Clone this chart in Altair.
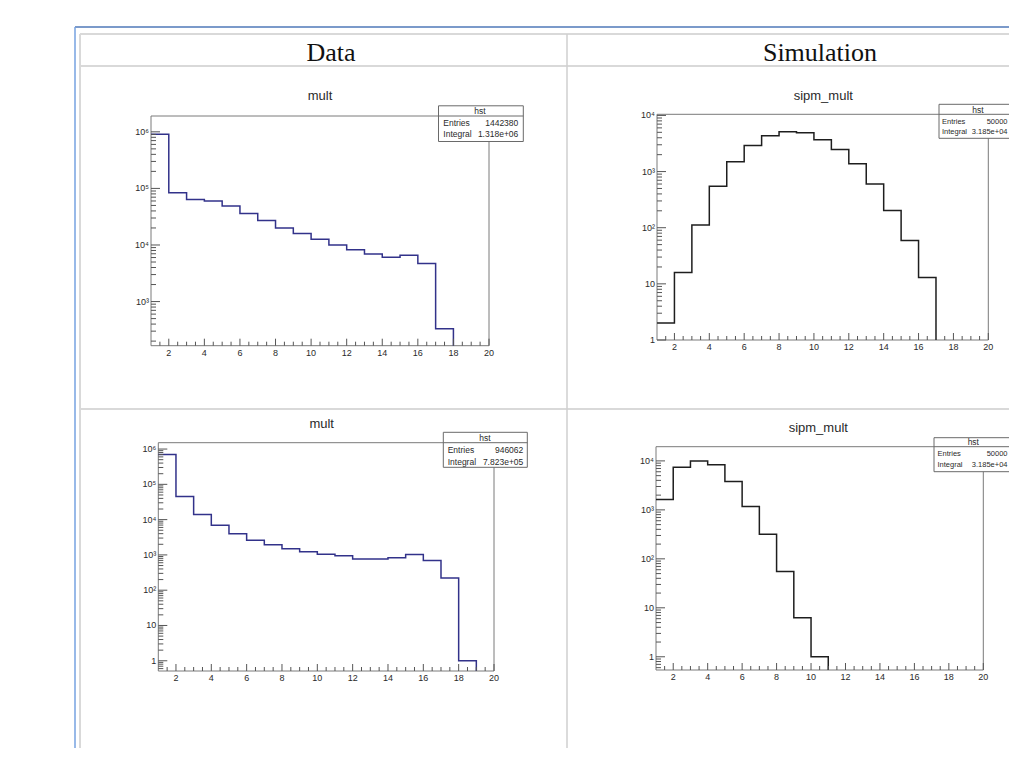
import altair as alt
import pandas as pd

# ---------------- data ----------------
bin_low_edges = list(range(1, 20))          # 19 unit-wide bins covering 1..20
x_tick_major = [2, 4, 6, 8, 10, 12, 14, 16, 18, 20]
x_tick_labels = ["2", "4", "6", "8", "10", "12", "14", "16", "18", "20"]

data_top_counts = [9.1e5, 8.4e4, 6.4e4, 6.0e4, 4.9e4, 3.6e4, 2.7e4, 2.0e4, 1.6e4,
                   1.26e4, 1.0e4, 8.2e3, 6.9e3, 6.1e3, 6.6e3, 4.7e3, 330, 0, 0]
sim_top_counts = [2, 16, 112, 545, 1500, 2900, 4350, 5100, 4900,
                  3700, 2480, 1380, 600, 203, 59, 13, 0, 0, 0]
data_bot_counts = [7.0e5, 4.5e4, 1.4e4, 6.9e3, 4.0e3, 2.6e3, 1.95e3, 1.5e3, 1.23e3,
                   1.05e3, 950, 760, 760, 830, 1020, 690, 220, 1, 0]
sim_bot_counts = [1620, 7400, 10000, 8300, 3800, 1170, 318, 55, 6.3,
                  1, 0, 0, 0, 0, 0, 0, 0, 0, 0]

ytick_top_data = [1e3, 1e4, 1e5, 1e6]
ylabel_top_data = ["10³", "10⁴", "10⁵", "10⁶"]
ytick_sim = [1, 10, 100, 1e3, 1e4]
ylabel_sim = ["1", "10", "10²", "10³", "10⁴"]
ytick_bot_data = [1, 10, 100, 1e3, 1e4, 1e5, 1e6]
ylabel_bot_data = ["1", "10", "10²", "10³", "10⁴", "10⁵", "10⁶"]

column_headers = ["Data", "Simulation"]
panel_titles = ["mult", "sipm_mult", "mult", "sipm_mult"]
stats_name = "hst"
stats_entries = ["1442380", "50000", "946062", "50000"]
stats_integral = ["1.318e+06", "3.185e+04", "7.823e+05", "3.185e+04"]

# ---------------- styling / layout ----------------
FONT = "Liberation Sans"
FRAME = "#7a7a7a"
TICK = "#555555"
TXT = "#2a2a2a"
DATA_COLOR = "#32328a"
SIM_COLOR = "#1e1e1e"
GRID = "#d9d9d9"

one = pd.DataFrame({"k": [0]})


def vrule(x, y1, y2, color, w):
    return alt.Chart(one).mark_rule(color=color, strokeWidth=w).encode(
        x=alt.value(x), y=alt.value(y1), y2=alt.value(y2))


def hrule(y, x1, x2, color, w):
    return alt.Chart(one).mark_rule(color=color, strokeWidth=w).encode(
        y=alt.value(y), x=alt.value(x1), x2=alt.value(x2))


def text(t, x, y, size, align="center", font=FONT, color=TXT, baseline="middle"):
    return alt.Chart(one).mark_text(text=t, fontSize=size, font=font, color=color,
                                    align=align, baseline=baseline).encode(
        x=alt.value(x), y=alt.value(y))


def log_minors(lo, hi):
    out = []
    for e in range(-2, 8):
        for k in range(2, 10):
            v = k * 10 ** e
            if lo <= v <= hi:
                out.append(v)
    return out


def panel(counts, color, yticks, ylabels, title, entries, integral, L):
    x0, x1 = L["xr"]
    yb, yt = L["yr"]
    ylo, yhi = L["ydom"]
    xs = alt.Scale(domain=[1, 20], range=[x0, x1], nice=False, zero=False)
    ys = alt.Scale(type="log", domain=[ylo, yhi], range=[yb, yt], nice=False, clamp=True)
    layers = []

    frame_df = pd.DataFrame({"x": [1], "x2": [20], "y": [ylo], "y2": [yhi]})
    layers.append(alt.Chart(frame_df).mark_rect(fill="white", stroke=FRAME, strokeWidth=1).encode(
        x=alt.X("x:Q", scale=xs, axis=None), x2="x2:Q",
        y=alt.Y("y:Q", scale=ys, axis=None), y2="y2:Q"))

    # histogram outline (step)
    last = max(i for i, v in enumerate(counts) if v > 0)
    px = bin_low_edges[:last + 1] + [bin_low_edges[last] + 1, bin_low_edges[last] + 1]
    py = counts[:last + 1] + [counts[last], ylo]
    hdf = pd.DataFrame({"x": px, "y": py, "o": list(range(len(px)))})
    layers.append(alt.Chart(hdf).mark_line(interpolate="step-after", color=color,
                                           strokeWidth=1.5).encode(
        x=alt.X("x:Q", scale=xs, axis=None),
        y=alt.Y("y:Q", scale=ys, axis=None),
        order="o:Q"))

    # x ticks (inside the frame)
    minors_x = [v / 2 for v in range(3, 40) if (v / 2) not in x_tick_major]
    layers.append(alt.Chart(pd.DataFrame({"v": x_tick_major})).mark_rule(color=TICK, strokeWidth=1).encode(
        x=alt.X("v:Q", scale=xs, axis=None), y=alt.value(yb), y2=alt.value(yb - 7)))
    layers.append(alt.Chart(pd.DataFrame({"v": minors_x})).mark_rule(color=TICK, strokeWidth=1).encode(
        x=alt.X("v:Q", scale=xs, axis=None), y=alt.value(yb), y2=alt.value(yb - 4)))
    # y ticks
    layers.append(alt.Chart(pd.DataFrame({"v": yticks})).mark_rule(color=TICK, strokeWidth=1).encode(
        y=alt.Y("v:Q", scale=ys, axis=None), x=alt.value(x0), x2=alt.value(x0 + 9)))
    layers.append(alt.Chart(pd.DataFrame({"v": log_minors(ylo, yhi)})).mark_rule(color=TICK, strokeWidth=1).encode(
        y=alt.Y("v:Q", scale=ys, axis=None), x=alt.value(x0), x2=alt.value(x0 + 5)))

    # tick labels
    layers.append(alt.Chart(pd.DataFrame({"v": x_tick_major, "t": x_tick_labels})).mark_text(
        fontSize=9, font=FONT, color=TXT, align="center", baseline="middle").encode(
        x=alt.X("v:Q", scale=xs, axis=None), y=alt.value(yb + 7), text="t:N"))
    layers.append(alt.Chart(pd.DataFrame({"v": yticks, "t": ylabels})).mark_text(
        fontSize=9, font=FONT, color=TXT, align="right", baseline="middle").encode(
        y=alt.Y("v:Q", scale=ys, axis=None), x=alt.value(x0 - 2), text="t:N"))

    # title
    layers.append(text(title, L["title"][0], L["title"][1], 13))

    # stats box
    fs = L["fs"]
    bx0, bx1, by0, by1 = L["box"]
    layers.append(alt.Chart(one).mark_rect(fill="white", stroke="#6a6a6a", strokeWidth=1).encode(
        x=alt.value(bx0), x2=alt.value(bx1), y=alt.value(by0), y2=alt.value(by1)))
    layers.append(hrule(yt, bx0, bx1, "#6a6a6a", 1))
    layers.append(text(stats_name, L["hst"][0], L["hst"][1], 8.5))
    layers.append(text("Entries", L["lx"], L["ey"], fs, align="left"))
    layers.append(text(entries, L["rx"], L["ey"], fs, align="right"))
    layers.append(text("Integral", L["lx"], L["iy"], fs, align="left"))
    layers.append(text(integral, L["rx"], L["iy"], fs, align="right"))
    return layers


P1 = dict(xr=[143, 481], yr=[337.7, 108], ydom=[10 ** 2.22, 10 ** 6.28], title=[312, 88], fs=8.5,
          box=[430.5, 515.3, 97.8, 133.5], hst=[472, 103], lx=435.3, rx=510.3, ey=115.3, iy=126.3)
P2 = dict(xr=[649, 980.3], yr=[332, 106.3], ydom=[1, 10 ** 4.02], title=[815.3, 88], fs=7.5,
          box=[931, 1020, 96.3, 130.3], hst=[970, 102], lx=934, rx=999.5, ey=113.7, iy=124.3)
P3 = dict(xr=[150.3, 486], yr=[663, 434.7], ydom=[10 ** -0.29, 10 ** 6.18], title=[313.7, 416.3], fs=8.5,
          box=[435.3, 519.3, 424.3, 459.3], hst=[477, 429.7], lx=439.7, rx=515.3, ey=442, iy=453.7)
P4 = dict(xr=[648, 975.3], yr=[662, 438.7], ydom=[10 ** -0.27, 10 ** 4.29], title=[810.3, 420.3], fs=7.5,
          box=[926, 1011, 429.7, 463.7], hst=[965.3, 434], lx=929.5, rx=999.5, ey=446.3, iy=457)

W, H = 1001, 740
layers = []
# page frame (blue) and table grid
layers.append(hrule(19, 67, W, "#4f79b8", 1.5))
layers.append(vrule(67, 19, H, "#76a2e0", 1.5))
layers.append(hrule(26, 72, W, GRID, 2))
layers.append(vrule(72, 26, H, GRID, 2))
layers.append(hrule(58, 72, W, GRID, 2))
layers.append(hrule(401, 72, W, GRID, 2))
layers.append(vrule(559, 26, H, "#cfcfcf", 1.5))
layers.append(text(column_headers[0], 323, 45, 26, font="Liberation Serif", color="#111111"))
layers.append(text(column_headers[1], 812, 45, 26, font="Liberation Serif", color="#111111"))

layers += panel(data_top_counts, DATA_COLOR, ytick_top_data, ylabel_top_data,
                panel_titles[0], stats_entries[0], stats_integral[0], P1)
layers += panel(sim_top_counts, SIM_COLOR, ytick_sim, ylabel_sim,
                panel_titles[1], stats_entries[1], stats_integral[1], P2)
layers += panel(data_bot_counts, DATA_COLOR, ytick_bot_data, ylabel_bot_data,
                panel_titles[2], stats_entries[2], stats_integral[2], P3)
layers += panel(sim_bot_counts, SIM_COLOR, ytick_sim, ylabel_sim,
                panel_titles[3], stats_entries[3], stats_integral[3], P4)

chart = alt.layer(*layers).resolve_scale(x="independent", y="independent").properties(
    width=W, height=H, padding=0, background="white",
    autosize=alt.AutoSizeParams(type="none"),
).configure_view(stroke=None)

chart.save("out.html", embed_options={"renderer": "svg", "actions": False})
